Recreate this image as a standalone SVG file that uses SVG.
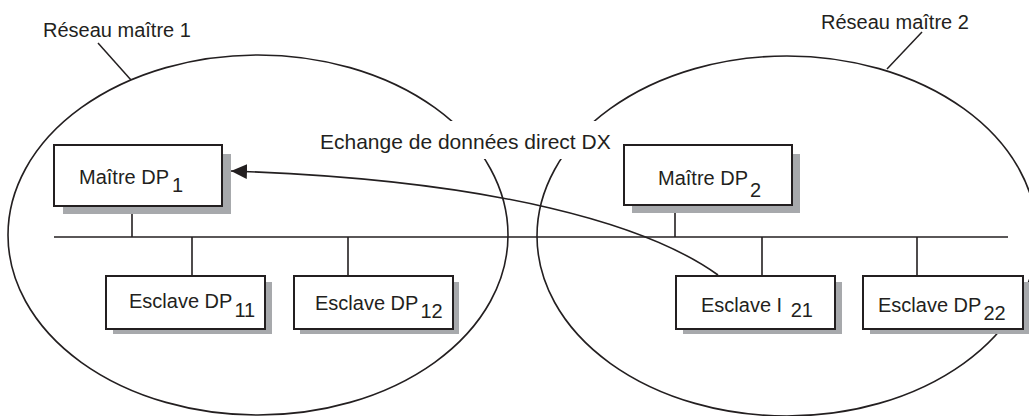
<svg xmlns="http://www.w3.org/2000/svg" width="1029" height="416" viewBox="0 0 1029 416">
  <style>
    .net { fill: none; stroke: #231f20; stroke-width: 1.6; }
    .lead { fill: none; stroke: #231f20; stroke-width: 1.5; }
    .box { fill: #ffffff; stroke: #231f20; stroke-width: 2; }
    .shadow { fill: #a7a9ac; stroke: none; }
    .wire { fill: none; stroke: #231f20; stroke-width: 1.6; }
    .lbl { font-family: "Liberation Sans", Arial, sans-serif; font-size: 20px; fill: #231f20; }
    .big { font-size: 21px; }
  </style>
  <defs>
    <!-- filled triangular head, tip at the end of the line -->
    <marker id="arrowHead" viewBox="0 0 16 15" refX="16" refY="7.5" markerWidth="16" markerHeight="15" markerUnits="userSpaceOnUse" orient="auto">
      <path d="M0,0 L16,7.5 L0,15 Z" fill="#231f20"/>
    </marker>
  </defs>

  <rect x="0" y="0" width="1029" height="416" fill="#ffffff"/>

  <!-- Network boundaries -->
  <g id="network-1">
    <ellipse class="net" cx="258" cy="235" rx="250" ry="180"/>
    <line class="lead" x1="98" y1="43" x2="131" y2="80"/>
    <text class="lbl" x="43" y="37">Réseau maître 1</text>
  </g>
  <g id="network-2">
    <ellipse class="net" cx="787" cy="236" rx="250" ry="180"/>
    <line class="lead" x1="922" y1="32" x2="887" y2="69"/>
    <text class="lbl" x="821" y="29">Réseau maître 2</text>
  </g>

  <!-- Exchange label, masked over the boundaries -->
  <g id="dx-label">
    <rect x="314" y="121" width="306" height="38" fill="#ffffff"/>
    <text class="lbl big" x="320" y="149">Echange de données direct DX</text>
  </g>

  <!-- Bus and drop lines -->
  <g id="connectors">
    <line class="wire" x1="54" y1="237" x2="1008" y2="237"/>
    <line class="wire" x1="132" y1="206" x2="132" y2="237"/>
    <line class="wire" x1="192" y1="237" x2="192" y2="276"/>
    <line class="wire" x1="348" y1="237" x2="348" y2="276"/>
    <line class="wire" x1="675" y1="206" x2="675" y2="237"/>
    <line class="wire" x1="762" y1="237" x2="762" y2="276"/>
    <line class="wire" x1="917" y1="237" x2="917" y2="276"/>
    <path class="wire" d="M718,275 C650,226 500,180 231,171" marker-end="url(#arrowHead)"/>
  </g>

  <!-- Masters -->
  <g id="master-dp1">
    <rect class="shadow" x="63" y="154" width="168" height="60"/>
    <rect class="box" x="54" y="145" width="168" height="61"/>
    <text class="lbl" x="79" y="184">Maître DP<tspan dx="3" dy="8">1</tspan></text>
  </g>
  <g id="master-dp2">
    <rect class="shadow" x="632" y="154" width="168" height="59"/>
    <rect class="box" x="624" y="145" width="168" height="60"/>
    <text class="lbl" x="658" y="185">Maître DP<tspan dx="2" dy="12">2</tspan></text>
  </g>

  <!-- Slaves -->
  <g id="slave-dp11">
    <rect class="shadow" x="113" y="282" width="159" height="52"/>
    <rect class="box" x="106" y="276" width="159" height="53"/>
    <text class="lbl" x="129" y="308">Esclave DP<tspan dx="2" dy="9">11</tspan></text>
  </g>
  <g id="slave-dp12">
    <rect class="shadow" x="300" y="282" width="159" height="52"/>
    <rect class="box" x="294" y="276" width="159" height="53"/>
    <text class="lbl" x="315" y="310">Esclave DP<tspan dx="2" dy="8">12</tspan></text>
  </g>
  <g id="slave-i21">
    <rect class="shadow" x="683" y="282" width="159" height="52"/>
    <rect class="box" x="676" y="276" width="159" height="53"/>
    <text class="lbl" x="701" y="312">Esclave I <tspan dx="3" dy="5">21</tspan></text>
  </g>
  <g id="slave-dp22">
    <rect class="shadow" x="870" y="282" width="159" height="52"/>
    <rect class="box" x="863" y="276" width="160" height="53"/>
    <text class="lbl" x="878" y="312">Esclave DP<tspan dx="2" dy="8">22</tspan></text>
  </g>
</svg>
